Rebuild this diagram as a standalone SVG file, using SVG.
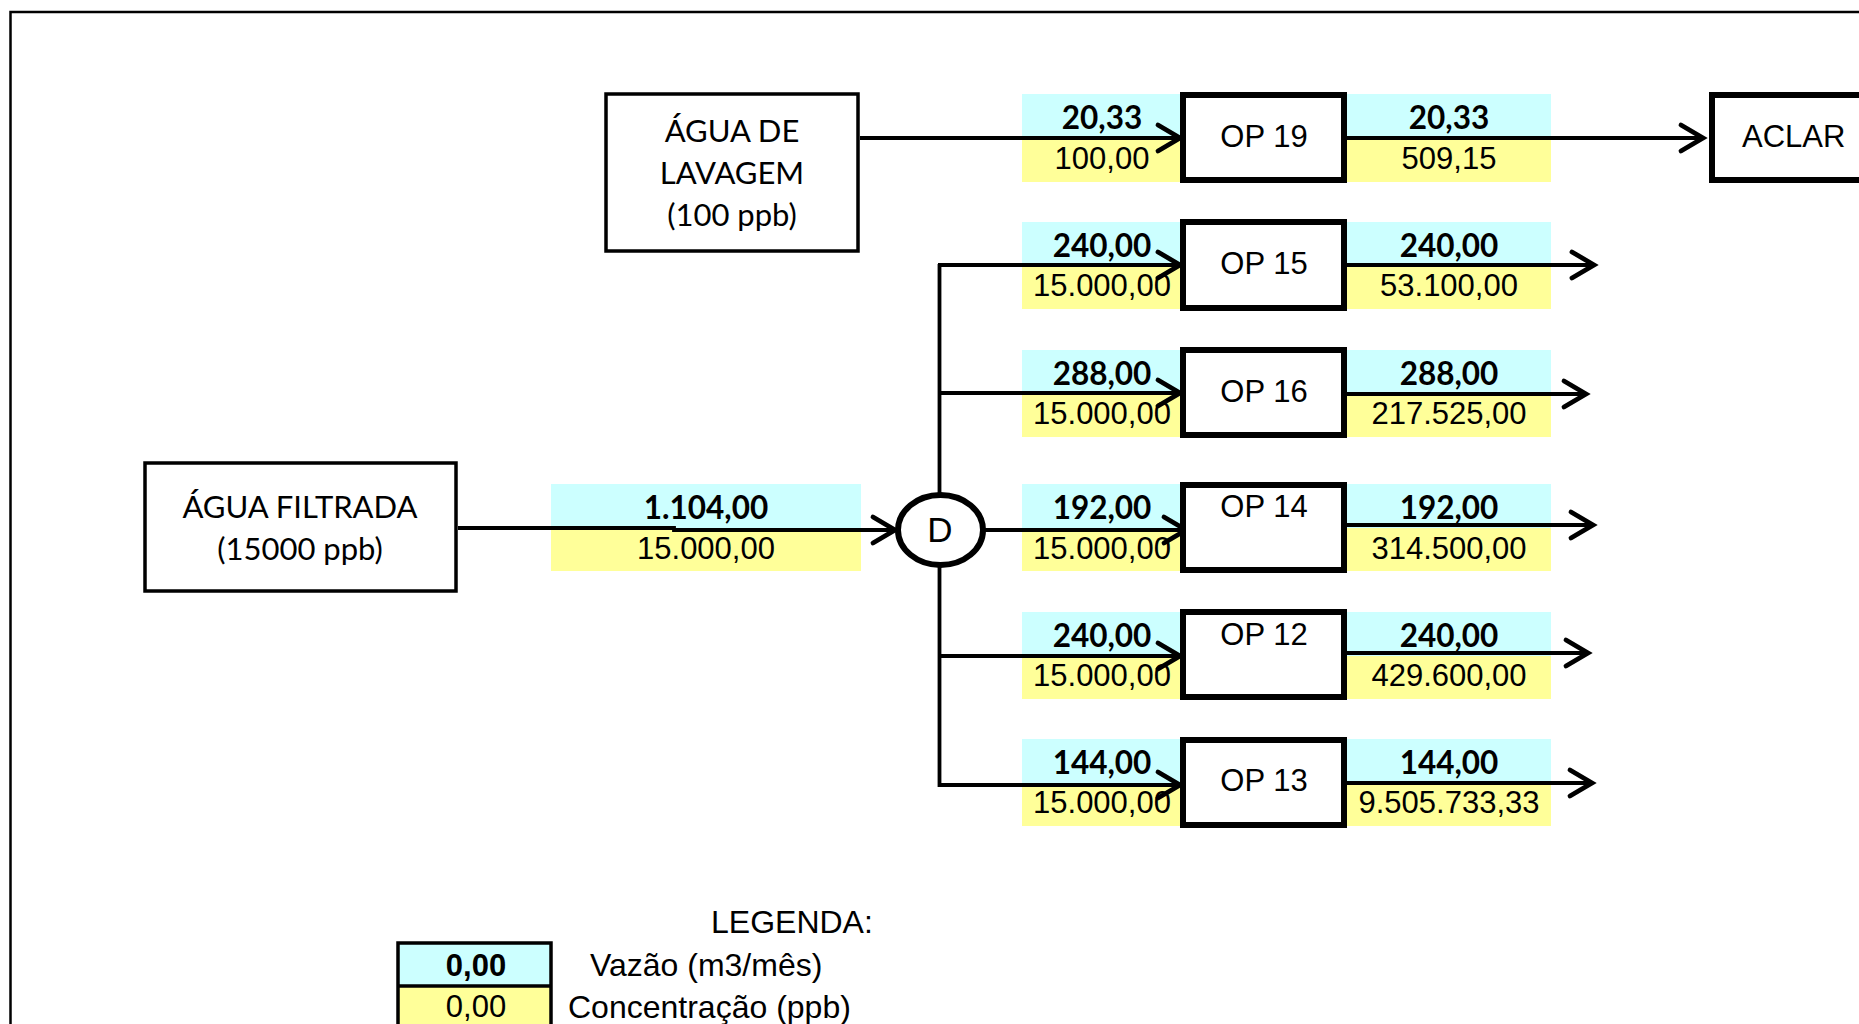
<svg xmlns="http://www.w3.org/2000/svg" width="1859" height="1024" viewBox="0 0 1859 1024">
<defs>
<marker id="arr" markerUnits="userSpaceOnUse" markerWidth="40" markerHeight="40" viewBox="-30 -20 40 40" refX="0" refY="0" orient="auto" overflow="visible">
<path d="M-22,-13 L0,0 L-22,13" fill="none" stroke="#000" stroke-width="4.8" stroke-linecap="round" stroke-linejoin="miter"/>
</marker>
<style>
.src{fill:#fff;stroke:#000;stroke-width:3.5}
.op{fill:#fff;stroke:#000;stroke-width:6}
.cy{fill:#CCFFFF}
.ye{fill:#FFFF99}
.ln{fill:none;stroke:#000;stroke-width:3.8}
.cal{font-family:Lato,"Open Sans","Noto Sans",sans-serif;font-size:31px;fill:#000;text-anchor:middle}
.b{font-family:Lato,"Open Sans","Noto Sans",sans-serif;font-size:31.5px;font-weight:bold;fill:#000;text-anchor:middle}
.ar{font-family:"Liberation Sans",Arial,sans-serif;font-size:31px;fill:#000;text-anchor:middle}
.arl{font-family:"Liberation Sans",Arial,sans-serif;font-size:31px;fill:#000}
.lg{font-family:"Liberation Sans",Arial,sans-serif;font-size:32px;fill:#000}
.arb{font-family:"Liberation Sans",Arial,sans-serif;font-size:31px;font-weight:bold;fill:#000;text-anchor:middle}
</style>
</defs>
<rect width="1859" height="1024" fill="#fff"/>
<rect x="10.5" y="12" width="1900" height="1100" fill="none" stroke="#000" stroke-width="2.5"/>

<!-- flow labels -->
<g id="labels">
<rect class="cy" x="551" y="484" width="310" height="44"/><rect class="ye" x="551" y="528" width="310" height="43"/>
<text class="b" x="706" y="519">1.104,00</text><text class="ar" x="706" y="559">15.000,00</text>

<rect class="cy" x="1022" y="94" width="158" height="44"/><rect class="ye" x="1022" y="138" width="158" height="44"/>
<text class="b" x="1102" y="129">20,33</text><text class="ar" x="1102" y="169">100,00</text>
<rect class="cy" x="1347" y="94" width="204" height="44"/><rect class="ye" x="1347" y="138" width="204" height="44"/>
<text class="b" x="1449" y="129">20,33</text><text class="ar" x="1449" y="169">509,15</text>

<rect class="cy" x="1022" y="222" width="158" height="44"/><rect class="ye" x="1022" y="266" width="158" height="43"/>
<text class="b" x="1102" y="257">240,00</text><text class="ar" x="1102" y="296">15.000,00</text>
<rect class="cy" x="1347" y="222" width="204" height="44"/><rect class="ye" x="1347" y="266" width="204" height="43"/>
<text class="b" x="1449" y="257">240,00</text><text class="ar" x="1449" y="296">53.100,00</text>

<rect class="cy" x="1022" y="350" width="158" height="44"/><rect class="ye" x="1022" y="394" width="158" height="43"/>
<text class="b" x="1102" y="385">288,00</text><text class="ar" x="1102" y="424">15.000,00</text>
<rect class="cy" x="1347" y="350" width="204" height="44"/><rect class="ye" x="1347" y="394" width="204" height="43"/>
<text class="b" x="1449" y="385">288,00</text><text class="ar" x="1449" y="424">217.525,00</text>

<rect class="cy" x="1022" y="484" width="158" height="44"/><rect class="ye" x="1022" y="528" width="158" height="43"/>
<text class="b" x="1102" y="519">192,00</text><text class="ar" x="1102" y="559">15.000,00</text>
<rect class="cy" x="1347" y="484" width="204" height="44"/><rect class="ye" x="1347" y="528" width="204" height="43"/>
<text class="b" x="1449" y="519">192,00</text><text class="ar" x="1449" y="559">314.500,00</text>

<rect class="cy" x="1022" y="612" width="158" height="44"/><rect class="ye" x="1022" y="656" width="158" height="43"/>
<text class="b" x="1102" y="647">240,00</text><text class="ar" x="1102" y="686">15.000,00</text>
<rect class="cy" x="1347" y="612" width="204" height="44"/><rect class="ye" x="1347" y="656" width="204" height="43"/>
<text class="b" x="1449" y="647">240,00</text><text class="ar" x="1449" y="686">429.600,00</text>

<rect class="cy" x="1022" y="739" width="158" height="44"/><rect class="ye" x="1022" y="783" width="158" height="43"/>
<text class="b" x="1102" y="774">144,00</text><text class="ar" x="1102" y="813">15.000,00</text>
<rect class="cy" x="1347" y="739" width="204" height="44"/><rect class="ye" x="1347" y="783" width="204" height="43"/>
<text class="b" x="1449" y="774">144,00</text><text class="ar" x="1449" y="813">9.505.733,33</text>
</g>

<g id="connectors">
<polyline class="ln" points="458,528 674,528 674,530 895,530" marker-end="url(#arr)"/>
<line class="ln" x1="860" y1="138" x2="1180" y2="138" marker-end="url(#arr)"/>
<line class="ln" x1="939.5" y1="264" x2="939.5" y2="787"/>
<line class="ln" x1="938" y1="265" x2="1180" y2="265" marker-end="url(#arr)"/>
<line class="ln" x1="938" y1="393" x2="1180" y2="393" marker-end="url(#arr)"/>
<line class="ln" x1="980" y1="530" x2="1186" y2="530" marker-end="url(#arr)"/>
<line class="ln" x1="938" y1="656" x2="1180" y2="656" marker-end="url(#arr)"/>
<line class="ln" x1="938" y1="785" x2="1180" y2="785" marker-end="url(#arr)"/>
<line class="ln" x1="1347" y1="138" x2="1703" y2="138" marker-end="url(#arr)"/>
<line class="ln" x1="1347" y1="265" x2="1594" y2="265" marker-end="url(#arr)"/>
<line class="ln" x1="1347" y1="394" x2="1586" y2="394" marker-end="url(#arr)"/>
<line class="ln" x1="1347" y1="525" x2="1593" y2="525" marker-end="url(#arr)"/>
<line class="ln" x1="1347" y1="653" x2="1588" y2="653" marker-end="url(#arr)"/>
<line class="ln" x1="1347" y1="783" x2="1592" y2="783" marker-end="url(#arr)"/>
</g>

<g id="agua-lavagem">
<rect class="src" x="606" y="94" width="252" height="157"/>
<text class="cal" x="732" y="142">ÁGUA DE</text>
<text class="cal" x="732" y="184">LAVAGEM</text>
<text class="cal" x="732" y="226">(100 ppb)</text>
</g>

<g id="agua-filtrada">
<rect class="src" x="145" y="463" width="311" height="128"/>
<text class="cal" x="300" y="518">ÁGUA FILTRADA</text>
<text class="cal" x="300" y="560">(15000 ppb)</text>
</g>

<g id="D">
<ellipse cx="940.5" cy="530" rx="42.5" ry="35" fill="#fff" stroke="#000" stroke-width="6"/>
<text class="ar" x="940" y="542" style="font-size:35px">D</text>
</g>

<g id="op19"><rect class="op" x="1183" y="95" width="161" height="85"/><text class="ar" x="1264" y="147">OP 19</text></g>
<g id="op15"><rect class="op" x="1183" y="222" width="161" height="86"/><text class="ar" x="1264" y="274">OP 15</text></g>
<g id="op16"><rect class="op" x="1183" y="350" width="161" height="85"/><text class="ar" x="1264" y="402">OP 16</text></g>
<g id="op14"><rect class="op" x="1183" y="485" width="161" height="85"/><text class="ar" x="1264" y="517">OP 14</text></g>
<g id="op12"><rect class="op" x="1183" y="612" width="161" height="85"/><text class="ar" x="1264" y="645">OP 12</text></g>
<g id="op13"><rect class="op" x="1183" y="740" width="161" height="85"/><text class="ar" x="1264" y="791">OP 13</text></g>

<g id="aclar"><rect class="op" x="1712" y="95" width="300" height="85"/><text class="arl" x="1742" y="147">ACLAR</text></g>

<g id="legenda">
<text class="lg" x="711" y="933">LEGENDA:</text>
<rect class="cy" x="398" y="943" width="153" height="43"/>
<rect class="ye" x="398" y="986" width="153" height="50"/>
<rect x="398" y="943" width="153" height="100" fill="none" stroke="#000" stroke-width="3.5"/>
<line x1="398" y1="986" x2="551" y2="986" stroke="#000" stroke-width="3.5"/>
<text class="arb" x="476" y="976">0,00</text>
<text class="ar" x="476" y="1017">0,00</text>
<text class="lg" x="590" y="976">Vazão (m3/mês)</text>
<text class="lg" x="568" y="1018">Concentração (ppb)</text>
</g>
</svg>
